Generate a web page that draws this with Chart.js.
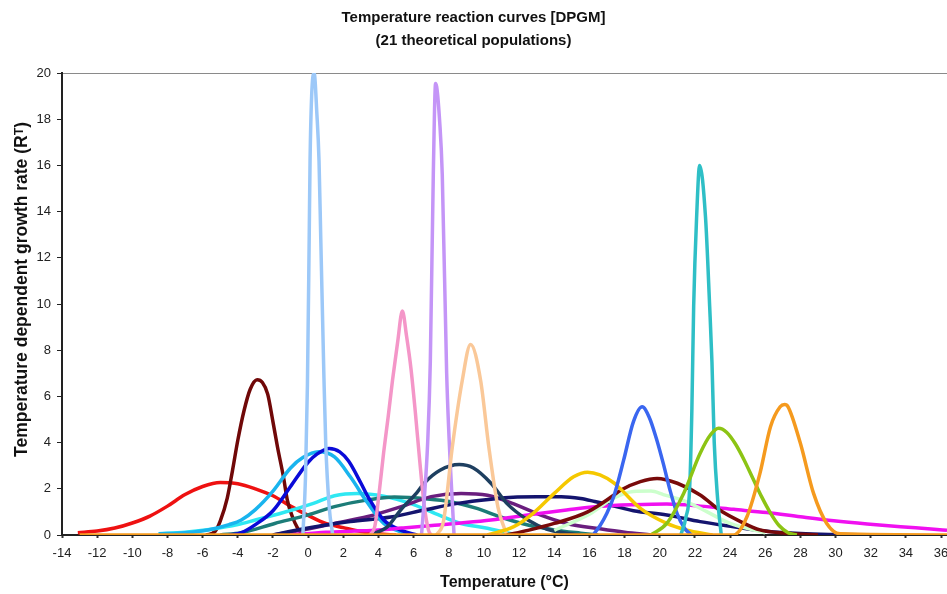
<!DOCTYPE html>
<html><head><meta charset="utf-8">
<script src="https://cdn.jsdelivr.net/npm/chart.js@4.4.1/dist/chart.umd.min.js"></script>
<style>html,body{margin:0;padding:0;background:#fff;}canvas{display:block;}</style>
</head><body>
<canvas id="c" width="947" height="594"></canvas>
<script>
// ---- tick labels ----
const xTickValues = [-14,-12,-10,-8,-6,-4,-2,0,2,4,6,8,10,12,14,16,18,20,22,24,26,28,30,32,34,36];
const yTickValues = [0,2,4,6,8,10,12,14,16,18,20];
const titleLines = ['Temperature reaction curves [DPGM]', '(21 theoretical populations)'];
const xTitle = 'Temperature (°C)';
const yTitle = 'Temperature dependent growth rate (Rᵀ)';

// ---- series (temperature °C, growth rate) ----
const tRed = [-13.1,-12,-11,-10,-9,-8,-7,-6,-5,-4,-3,-2,-1,0,1,2,3,4,5];
const rRed = [0.1,0.17,0.3,0.52,0.82,1.25,1.75,2.1,2.27,2.22,2.0,1.7,1.25,0.85,0.5,0.32,0.15,0.05,0];
const tMaroon1 = [-5.8,-5.3,-5.0,-4.6,-4.3,-4.0,-3.64,-3.3,-2.9,-2.6,-2.3,-2.0,-1.74,-1.4,-1.18,-0.9,-0.6,-0.3];
const rMaroon1 = [0,0.15,0.6,1.6,2.8,4.1,5.4,6.3,6.72,6.6,6.1,4.9,3.8,2.5,1.5,0.8,0.3,0];
const tLightBlue = [-0.3,-0.15,-0.04,0.06,0.11,0.2,0.34,0.5,0.62,0.72,0.9,1.0,1.2,1.4];
const rLightBlue = [0,2.5,6.5,12.8,16.2,19.0,20.0,18.2,16.2,12.8,6.8,4.0,1.2,0];
const tBlue = [-4.5,-3.8,-3,-2,-1,0,0.5,1.2,1.8,2.3,3,3.4,4.3,5.3,6.2];
const rBlue = [0,0.1,0.45,1.05,2.1,3.15,3.5,3.75,3.6,3.2,2.25,1.66,0.65,0.2,0];
const tSkyBlue = [-8.5,-7,-5.7,-4.5,-3.8,-3,-2,-1,-0.3,0.6,1.5,2.4,3.4,4.3,5.3,6];
const rSkyBlue = [0.05,0.1,0.22,0.45,0.65,1.1,1.9,2.9,3.35,3.6,3.38,2.52,1.37,0.5,0.13,0];
const tCyan = [-8.5,-7,-5.5,-4,-3,-1.5,0.3,1.5,2.8,4.3,5.8,7.2,8.7,10.2,11.3,12];
const rCyan = [0.05,0.12,0.25,0.45,0.65,0.95,1.37,1.7,1.8,1.68,1.37,0.94,0.5,0.29,0.1,0];
const tTeal = [-5,-3.8,-1.9,0,1.5,3.4,4.9,6.8,8.1,9.6,10.9,12.5,14,15.5,16.5];
const rTeal = [0,0.1,0.5,0.87,1.23,1.52,1.64,1.56,1.44,1.15,0.79,0.43,0.22,0.08,0];
const tPurple = [-2,-0.4,1.5,3.4,5.3,7,8.7,10.2,11.7,13.2,14.7,16.6,18,19.5];
const rPurple = [0,0.2,0.5,0.8,1.23,1.66,1.8,1.72,1.35,0.87,0.5,0.27,0.12,0];
const tNavy = [-2,-0.4,2.4,4.7,6.6,8.5,10.4,11.9,13,14.4,15.5,16.3,17.7,18.5,20.4,22.3,24.2,26.1,28,30,32];
const rNavy = [0,0.25,0.58,0.78,1.08,1.37,1.55,1.64,1.66,1.66,1.58,1.45,1.2,1.05,0.87,0.58,0.36,0.16,0.06,0.02,0];
const tSlate = [3.5,4.5,5.26,6.2,6.6,7.5,8.6,9.4,10.4,11.3,12.5,13.6,14.7,15.5];
const rSlate = [0,0.35,1.08,1.85,2.24,2.8,3.05,2.9,2.24,1.37,0.65,0.25,0.08,0];
const tPink = [3.5,3.8,4.05,4.3,4.55,4.8,5.1,5.36,5.6,5.85,6.1,6.35,6.6,6.85,7.0];
const rPink = [0,0.4,1.9,3.6,5.1,6.7,8.4,9.7,8.6,7.2,5.3,3.2,1.3,0.2,0];
const tLavender = [6.45,6.6,6.8,6.95,7.12,7.25,7.5,7.63,7.88,8.0,8.3];
const rLavender = [0,1.5,4,7.5,15.6,19.55,17.7,15.6,7.0,4.5,0];
const tPeach = [7.3,7.7,8.2,8.77,9.24,9.81,10.28,10.8,11.3];
const rPeach = [0,0.6,3.8,6.7,8.25,6.7,3.8,1.2,0];
const tMagenta = [-1,1,3,4,5.3,7.2,8.7,10.4,12.8,14.7,16.6,18.5,20.4,22.3,24.2,26.1,28,29.9,31.8,33.7,35.6,36.34];
const rMagenta = [0,0.12,0.18,0.22,0.3,0.42,0.52,0.65,0.9,1.08,1.24,1.31,1.34,1.25,1.11,0.97,0.79,0.62,0.48,0.36,0.25,0.2];
const tGold = [10.2,11.7,12.8,14,15.1,15.9,16.6,17.4,17.76,18.9,20.4,21.5,23];
const rGold = [0,0.36,0.94,1.8,2.52,2.72,2.6,2.25,2.0,1.15,0.5,0.22,0];
const tRoyal = [16.2,16.6,17.0,17.4,17.95,18.5,19.0,19.4,19.8,20.2,20.6,21.0,21.4,21.8];
const rRoyal = [0,0.4,0.95,1.7,3.25,4.9,5.55,5.1,4.2,3.1,1.9,0.9,0.3,0];
const tMaroon2 = [11.3,12.5,14,15.9,17.4,17.8,18.9,19.85,21,22.3,23.4,24.6,25.7,27.2,29];
const rMaroon2 = [0,0.2,0.5,1.0,1.73,1.95,2.31,2.45,2.24,1.73,1.08,0.58,0.22,0.08,0];
const tPaleGreen = [14,16,17.4,18.5,19.5,20.2,21.5,22.7,24,26];
const rPaleGreen = [0.2,0.9,1.6,1.88,1.9,1.75,1.45,1.0,0.5,0.1];
const tTurquoise = [21.2,21.5,21.7,21.83,21.93,22.1,22.27,22.6,22.84,22.97,23.1,23.3,23.5];
const rTurquoise = [0,0.8,2.0,5.5,9.9,13.8,16,13.8,9.9,7.5,4,1.5,0];
const tYellowGreen = [19.5,20.4,21.36,22.3,22.9,23.35,23.8,24.3,24.8,25.3,25.8,26.3,26.8,27.3,27.8];
const rYellowGreen = [0,0.5,1.8,3.54,4.35,4.62,4.45,3.95,3.25,2.45,1.65,0.95,0.4,0.1,0];
const tOrange = [-13,24.2,24.96,25.7,26.3,26.85,27.1,27.3,28,28.75,29.5,30.26,36.34];
const rOrange = [0,0,0.79,2.67,4.69,5.55,5.65,5.55,3.97,1.8,0.5,0.05,0];

const series = [
  [tRed, rRed, '#ee1111'],
  [tMaroon1, rMaroon1, '#700808'],
  [tCyan, rCyan, '#2ee8f2'],
  [tTeal, rTeal, '#1c7c78'],
  [tPurple, rPurple, '#6a1e7e'],
  [tNavy, rNavy, '#14146e'],
  [tSkyBlue, rSkyBlue, '#19b4ee'],
  [tBlue, rBlue, '#0a0ad8'],
  [tMagenta, rMagenta, '#f010f0'],
  [tSlate, rSlate, '#1e3f60'],
  [tLightBlue, rLightBlue, '#9cc8f8'],
  [tPink, rPink, '#f496c8'],
  [tLavender, rLavender, '#c495f7'],
  [tPeach, rPeach, '#fac898'],
  [tPaleGreen, rPaleGreen, '#ccffcc'],
  [tMaroon2, rMaroon2, '#780a0a'],
  [tGold, rGold, '#f5c800'],
  [tRoyal, rRoyal, '#3a66f0'],
  [tTurquoise, rTurquoise, '#2ebfc6'],
  [tYellowGreen, rYellowGreen, '#8cc414'],
  [tOrange, rOrange, '#f59a1e']
];

const FONT = "'Liberation Sans', Arial, sans-serif";
const N = series.length;
const datasets = series.map(([xs, ys, col], i) => ({
  data: xs.map((x, j) => ({x: x, y: ys[j]})),
  borderColor: col,
  backgroundColor: col,
  borderWidth: 3.5,
  pointRadius: 0,
  tension: 0.4,
  cubicInterpolationMode: 'monotone',
  fill: false,
  order: N - i
}));

new Chart(document.getElementById('c'), {
  type: 'line',
  data: { datasets },
  options: {
    responsive: false,
    animation: false,
    devicePixelRatio: 1,
    layout: { padding: 0 },
    plugins: {
      legend: { display: false },
      tooltip: { enabled: false },
      title: {
        display: true, text: titleLines, color: '#111',
        font: { family: FONT, size: 15, weight: 'bold', lineHeight: 23/15 },
        padding: { top: 6.5, bottom: 20.5 }
      }
    },
    scales: {
      x: {
        type: 'linear', min: -14, max: 36.34,
        afterBuildTicks: s => { s.ticks = xTickValues.map(v => ({ value: v })); },
        afterFit: s => { s.height = 59; s.paddingLeft = 0; s.paddingRight = 0; },
        grid: { drawOnChartArea: false, drawTicks: true, tickLength: 3, tickColor: '#333', tickWidth: 2 },
        border: { display: true, color: '#222', width: 2 },
        ticks: { color: '#222', font: { family: FONT, size: 13 }, padding: 8, maxRotation: 0, autoSkip: false },
        title: { display: true, text: xTitle, color: '#111', font: { family: FONT, size: 16, weight: 'bold' }, padding: { top: 0, bottom: 2 } }
      },
      y: {
        type: 'linear', min: 0, max: 20,
        afterBuildTicks: s => { s.ticks = yTickValues.map(v => ({ value: v })); },
        afterFit: s => { s.width = 62; },
        grid: {
          color: c => (c.tick && c.tick.value === 20) ? '#8a8a8a' : 'rgba(0,0,0,0)',
          tickColor: '#222', tickLength: 5, lineWidth: 1
        },
        border: { display: true, color: '#222', width: 2 },
        ticks: { color: '#222', font: { family: FONT, size: 13 }, padding: 6 },
        title: { display: true, text: '      ' + yTitle, color: '#111', font: { family: FONT, size: 17.5, weight: 'bold' }, padding: { top: 12, bottom: 0 } }
      }
    }
  }
});
</script>
</body></html>
